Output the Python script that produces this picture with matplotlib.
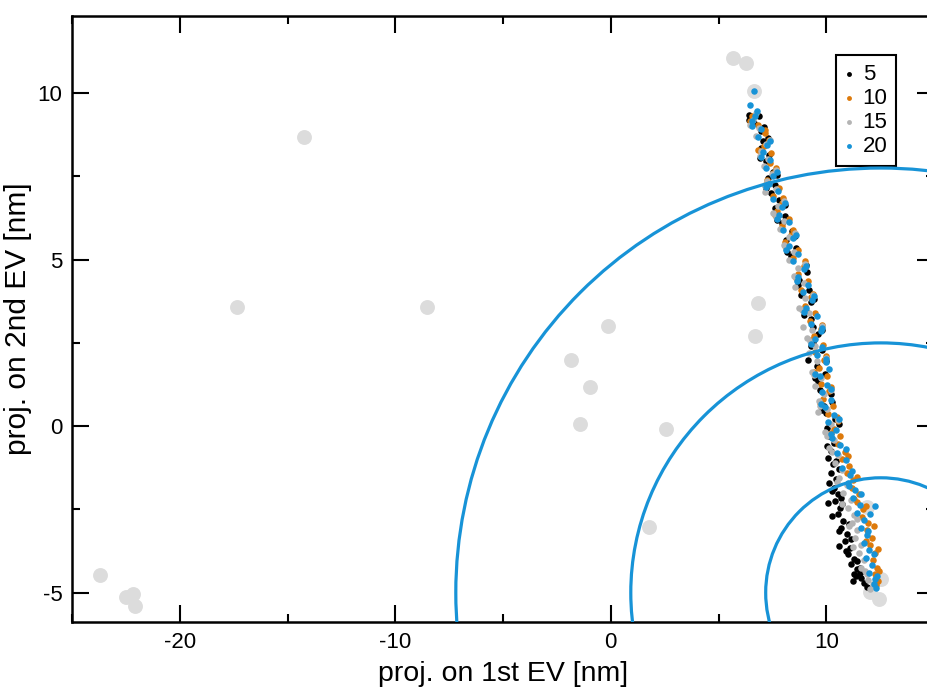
import matplotlib
matplotlib.use("Agg")
import matplotlib.pyplot as plt
from matplotlib.patches import Ellipse
from matplotlib.ticker import MultipleLocator

plt.rcParams['font.family'] = ['Liberation Sans', 'DejaVu Sans']
plt.rcParams['axes.unicode_minus'] = False

# Background reference structures (large light-gray points)
ref_x = [5.66, 6.26, 6.65, -14.25, -17.35, -8.54, 6.84, 6.68, -0.15, -1.86,
         -0.94, -1.44, 2.55, 1.78, -23.71, -22.50, -22.18, -22.09,
         11.87, 12.55, 12.05, 12.45]
ref_y = [11.05, 10.91, 10.06, 8.68, 3.58, 3.58, 3.69, 2.71, 3.01, 1.99,
         1.19, 0.06, -0.09, -3.03, -4.46, -5.12, -5.03, -5.39,
         -2.42, -4.58, -4.98, -5.20]

# Trajectory projections, one series per label
s5_x = [6.40, 6.90, 6.66, 6.95, 7.05, 6.95, 7.35, 7.20, 7.55, 7.30, 7.62, 7.45,
        7.82, 7.60, 8.10, 7.95, 8.40, 8.15, 8.60, 8.35, 9.12, 8.75, 9.22, 8.85,
        9.30, 9.05, 9.28, 9.40, 9.62, 9.38, 9.80, 9.15, 9.55, 9.95, 9.60, 9.70,
        10.25, 9.90, 10.00, 10.40, 10.05, 10.15, 10.35, 10.20, 10.10, 10.30,
        10.20, 10.45, 10.35, 10.55, 10.40, 10.65, 10.55, 10.80, 10.70, 10.95,
        10.85, 11.10, 11.00, 11.30, 11.15, 11.45, 11.30, 11.60, 11.75, 11.90,
        10.60, 10.15, 10.75, 10.10, 10.25, 10.60, 11.05, 11.45, 11.25, 11.55,
        6.41, 7.13, 7.32, 6.94, 7.70, 7.22, 8.10, 7.72, 8.55, 8.20, 9.05, 8.68,
        9.42, 8.98, 9.82, 9.30, 9.98, 9.50, 10.22, 9.80, 10.58, 10.05, 10.45,
        10.25, 10.70, 10.60, 11.15, 10.90, 11.55, 11.40]
s5_y = [9.35, 9.32, 9.10, 8.85, 8.55, 8.35, 8.15, 7.95, 7.63, 7.45, 7.25, 7.00,
        6.78, 6.55, 6.30, 6.10, 5.85, 5.60, 5.35, 5.10, 4.63, 4.40, 4.10, 3.95,
        3.72, 3.45, 3.22, 2.98, 2.76, 2.52, 2.30, 2.00, 1.80, 1.58, 1.35, 1.09,
        0.72, 0.62, 0.40, 0.22, -0.05, -0.30, -0.50, -0.75, -0.95, -1.15,
        -1.40, -1.60, -1.85, -2.05, -2.25, -2.45, -2.65, -2.85, -3.05, -3.25,
        -3.45, -3.65, -3.85, -4.00, -4.15, -4.30, -4.45, -4.55, -4.70, -4.82,
        -1.30, -1.70, -2.35, -2.30, -2.70, -3.60, -2.95, -4.05, -4.65, -4.40,
        9.20, 8.98, 8.65, 8.05, 7.55, 7.15, 6.65, 6.20, 5.72, 5.22, 4.85, 4.25,
        3.82, 3.35, 2.88, 2.40, 1.95, 1.45, 0.98, 0.50, 0.05, -0.60, -1.05,
        -1.95, -2.15, -3.15, -3.40, -3.75, -4.25, -4.50]

s10_x = [6.55, 6.85, 7.15, 7.35, 7.10, 7.45, 7.40, 7.55, 7.25, 7.80, 7.55, 7.95,
         7.70, 8.25, 7.95, 8.35, 8.10, 8.70, 8.45, 8.95, 8.70, 9.15, 8.85, 9.30,
         9.00, 9.50, 9.25, 9.75, 9.45, 9.85, 9.50, 9.90, 9.65, 10.05, 9.75,
         10.15, 9.85, 10.30, 10.10, 10.55, 10.35, 10.65, 10.55, 10.85, 10.75,
         11.05, 10.95, 11.25, 11.20, 11.50, 11.45, 11.70, 11.65, 11.95, 11.90,
         12.10, 12.05, 12.25, 12.15, 12.35, 12.25, 12.38, 12.30,
         6.45, 7.18, 6.85, 7.68, 7.18, 7.98, 7.62, 8.48, 8.10, 9.00, 8.60, 9.38,
         8.92, 9.78, 9.28, 9.98, 9.45, 10.20, 9.72, 10.50, 10.20, 11.00, 11.45,
         11.85, 12.20, 12.40, 12.45, 11.30, 11.85]
s10_y = [9.30, 9.05, 8.80, 8.60, 8.40, 8.20, 7.90, 7.60, 7.40, 7.15, 6.92, 6.70,
         6.45, 6.22, 6.00, 5.75, 5.52, 5.30, 5.05, 4.82, 4.58, 4.35, 4.10, 3.88,
         3.62, 3.40, 3.15, 2.92, 2.70, 2.45, 2.22, 1.98, 1.75, 1.52, 1.28,
         1.05, 0.82, 0.60, 0.38, 0.15, -0.08, -0.30, -0.55, -0.78, -1.00,
         -1.20, -1.42, -1.62, -1.85, -2.05, -2.28, -2.50, -2.72, -2.92, -3.12,
         -3.35, -3.58, -3.80, -4.02, -4.25, -4.45, -4.65, -4.78,
         9.15, 8.90, 8.30, 7.75, 7.25, 6.85, 6.35, 5.90, 5.40, 4.95, 4.45, 3.98,
         3.50, 3.05, 2.58, 2.10, 1.62, 1.18, 0.70, 0.28, -0.20, -0.90, -1.52,
         -2.40, -3.00, -3.70, -4.35, -2.20, -3.45]

s15_x = [6.75, 6.60, 6.90, 6.75, 7.20, 6.95, 7.30, 7.10, 7.50, 7.25, 7.65, 7.15,
         7.75, 7.55, 8.05, 7.85, 8.25, 8.05, 8.50, 8.25, 8.70, 8.50, 8.95, 8.55,
         9.00, 8.75, 9.20, 8.90, 9.35, 9.10, 9.50, 9.20, 9.55, 9.35, 9.75, 9.50,
         9.90, 9.65, 10.05, 9.60, 10.20, 9.95, 10.35, 10.15, 10.55, 10.40, 10.75,
         10.60, 10.95, 10.80, 11.15, 11.00, 11.30, 11.20, 11.45, 11.35, 11.60,
         11.50, 11.75, 11.60, 11.90, 11.95, 12.15, 12.05,
         6.48, 7.38, 6.93, 7.68, 7.18, 8.05, 7.65, 8.55, 8.12, 9.03, 8.62, 9.40,
         8.88, 9.80, 9.25, 9.98, 9.45, 10.20, 9.72, 10.55, 10.02, 10.25, 10.50,
         10.75, 11.05, 11.25, 11.80, 11.45]
s15_y = [9.40, 9.20, 8.95, 8.72, 8.48, 8.25, 8.02, 7.82, 7.58, 7.35, 7.12, 7.03,
         6.62, 6.40, 6.15, 5.92, 5.68, 5.45, 5.22, 4.98, 4.75, 4.52, 4.30, 4.18,
         3.85, 3.55, 3.40, 2.98, 2.90, 2.65, 2.42, 2.20, 1.95, 1.63, 1.45, 1.22,
         0.98, 0.75, 0.52, 0.43, 0.05, -0.18, -0.42, -0.65, -0.88, -1.10, -1.32,
         -1.55, -1.78, -2.00, -2.22, -2.45, -2.68, -2.90, -3.12, -3.35, -3.58,
         -3.80, -4.02, -4.25, -4.45, -4.62, -4.75, -4.88,
         9.05, 8.60, 8.10, 7.70, 7.22, 6.75, 6.28, 5.80, 5.32, 4.88, 4.40, 3.95,
         3.48, 3.02, 2.55, 2.05, 1.55, 1.10, 0.62, 0.18, -0.30, -0.78, -1.68,
         -2.35, -3.00, -3.62, -4.35, -2.80]

s20_x = [6.65, 6.48, 6.70, 6.55, 6.95, 6.85, 7.25, 7.05, 7.40, 7.20, 7.55, 7.35,
         7.75, 7.55, 7.95, 7.80, 8.25, 8.00, 8.45, 8.25, 8.70, 8.45, 8.95, 8.70,
         9.15, 8.90, 9.35, 9.05, 9.55, 9.30, 9.75, 9.50, 9.80, 9.55, 10.00,
         10.15, 9.70, 10.05, 9.80, 10.20, 9.95, 10.35, 10.10, 10.45, 10.25,
         10.65, 10.50, 10.90, 10.75, 11.10, 11.00, 11.35, 11.25, 11.55, 11.45,
         11.75, 11.60, 11.90, 11.75, 12.00, 11.85, 12.10, 12.00, 12.25, 12.20,
         12.32, 12.05, 12.25,
         6.80, 6.55, 7.40, 6.95, 7.72, 7.20, 8.08, 7.70, 8.58, 8.15, 9.08, 8.65,
         9.45, 8.95, 9.82, 9.30, 10.00, 9.50, 10.22, 9.75, 10.58, 10.20, 10.90,
         11.20, 11.60, 11.95, 12.20, 12.35, 11.05]
s20_y = [10.05, 9.64, 9.30, 9.15, 8.92, 8.68, 8.45, 8.22, 7.98, 7.75, 7.50, 7.28,
         7.05, 6.82, 6.58, 6.35, 6.12, 5.88, 5.65, 5.42, 5.18, 4.95, 4.72, 4.48,
         4.25, 4.02, 3.78, 3.55, 3.32, 3.08, 2.85, 2.62, 2.38, 2.15, 1.92,
         1.72, 1.50, 1.25, 1.02, 0.80, 0.58, 0.35, 0.12, -0.12, -0.35,
         -0.58, -0.80, -1.02, -1.25, -1.48, -1.70, -1.92, -2.15, -2.38, -2.60,
         -2.82, -3.05, -3.28, -3.50, -3.72, -3.95, -4.18, -4.40, -4.60, -4.75,
         -4.86, -2.65, -2.40,
         9.45, 9.00, 8.55, 8.08, 7.62, 7.18, 6.70, 6.22, 5.75, 5.28, 4.82, 4.35,
         3.90, 3.42, 2.95, 2.48, 2.02, 1.58, 1.12, 0.68, 0.22, -0.25, -0.70,
         -1.35, -2.05, -3.15, -3.85, -4.50, -1.80]

series_labels = ['5', '10', '15', '20']
series_colors = ['#000000', '#dd7a0c', '#b4b4b4', '#1793d7']

# Reference contours around the end state (semi-axes in data units)
ring_center = (12.53, -5.0)
ring_rx = [19.72, 11.60, 5.34]
ring_ry = [12.75, 7.50, 3.45]

fig = plt.figure(figsize=(9.27, 6.93), dpi=100)
ax = fig.add_axes([72 / 927, 71 / 693, 862 / 927, 606.5 / 693])

ax.scatter(ref_x, ref_y, s=115, color='#dcdcdc', linewidths=0, zorder=1)

series = [(s5_x, s5_y), (s10_x, s10_y), (s15_x, s15_y), (s20_x, s20_y)]
for (xs, ys), lab, col in zip(series, series_labels, series_colors):
    ax.scatter(xs, ys, s=22, color=col, linewidths=0, zorder=2, label=lab)

for rx, ry in zip(ring_rx, ring_ry):
    ax.add_patch(Ellipse(ring_center, 2 * rx, 2 * ry, fill=False,
                         edgecolor='#1793d7', linewidth=2.3, zorder=6))

ax.set_xlim(-25, 15)
ax.set_ylim(-5.88, 12.33)

ax.xaxis.set_major_locator(MultipleLocator(10))
ax.xaxis.set_minor_locator(MultipleLocator(5))
ax.yaxis.set_major_locator(MultipleLocator(5))
ax.yaxis.set_minor_locator(MultipleLocator(2.5))
ax.tick_params(which='both', direction='in', top=True, right=True,
               width=1.5, labelsize=16, pad=7)
ax.tick_params(which='major', length=12.5)
ax.tick_params(which='minor', length=6)
for sp in ax.spines.values():
    sp.set_linewidth(1.8)

ax.set_xlabel('proj. on 1st EV [nm]', fontsize=20.5, labelpad=6)
ax.set_ylabel('proj. on 2nd EV [nm]', fontsize=21.5, labelpad=4)

leg = ax.legend(loc='upper left',
                bbox_to_anchor=((836 - 72) / 862, 1 - (55 - 15.5) / 606.5),
                bbox_transform=ax.transAxes, borderaxespad=0,
                frameon=True, fancybox=False, framealpha=1, edgecolor='black',
                fontsize=16, handlelength=0.4, handletextpad=0.4,
                borderpad=0.4, labelspacing=0.14, markerscale=0.75)
leg.get_frame().set_linewidth(1.5)
leg.set_zorder(5)

fig.savefig('out.png', dpi=100)
